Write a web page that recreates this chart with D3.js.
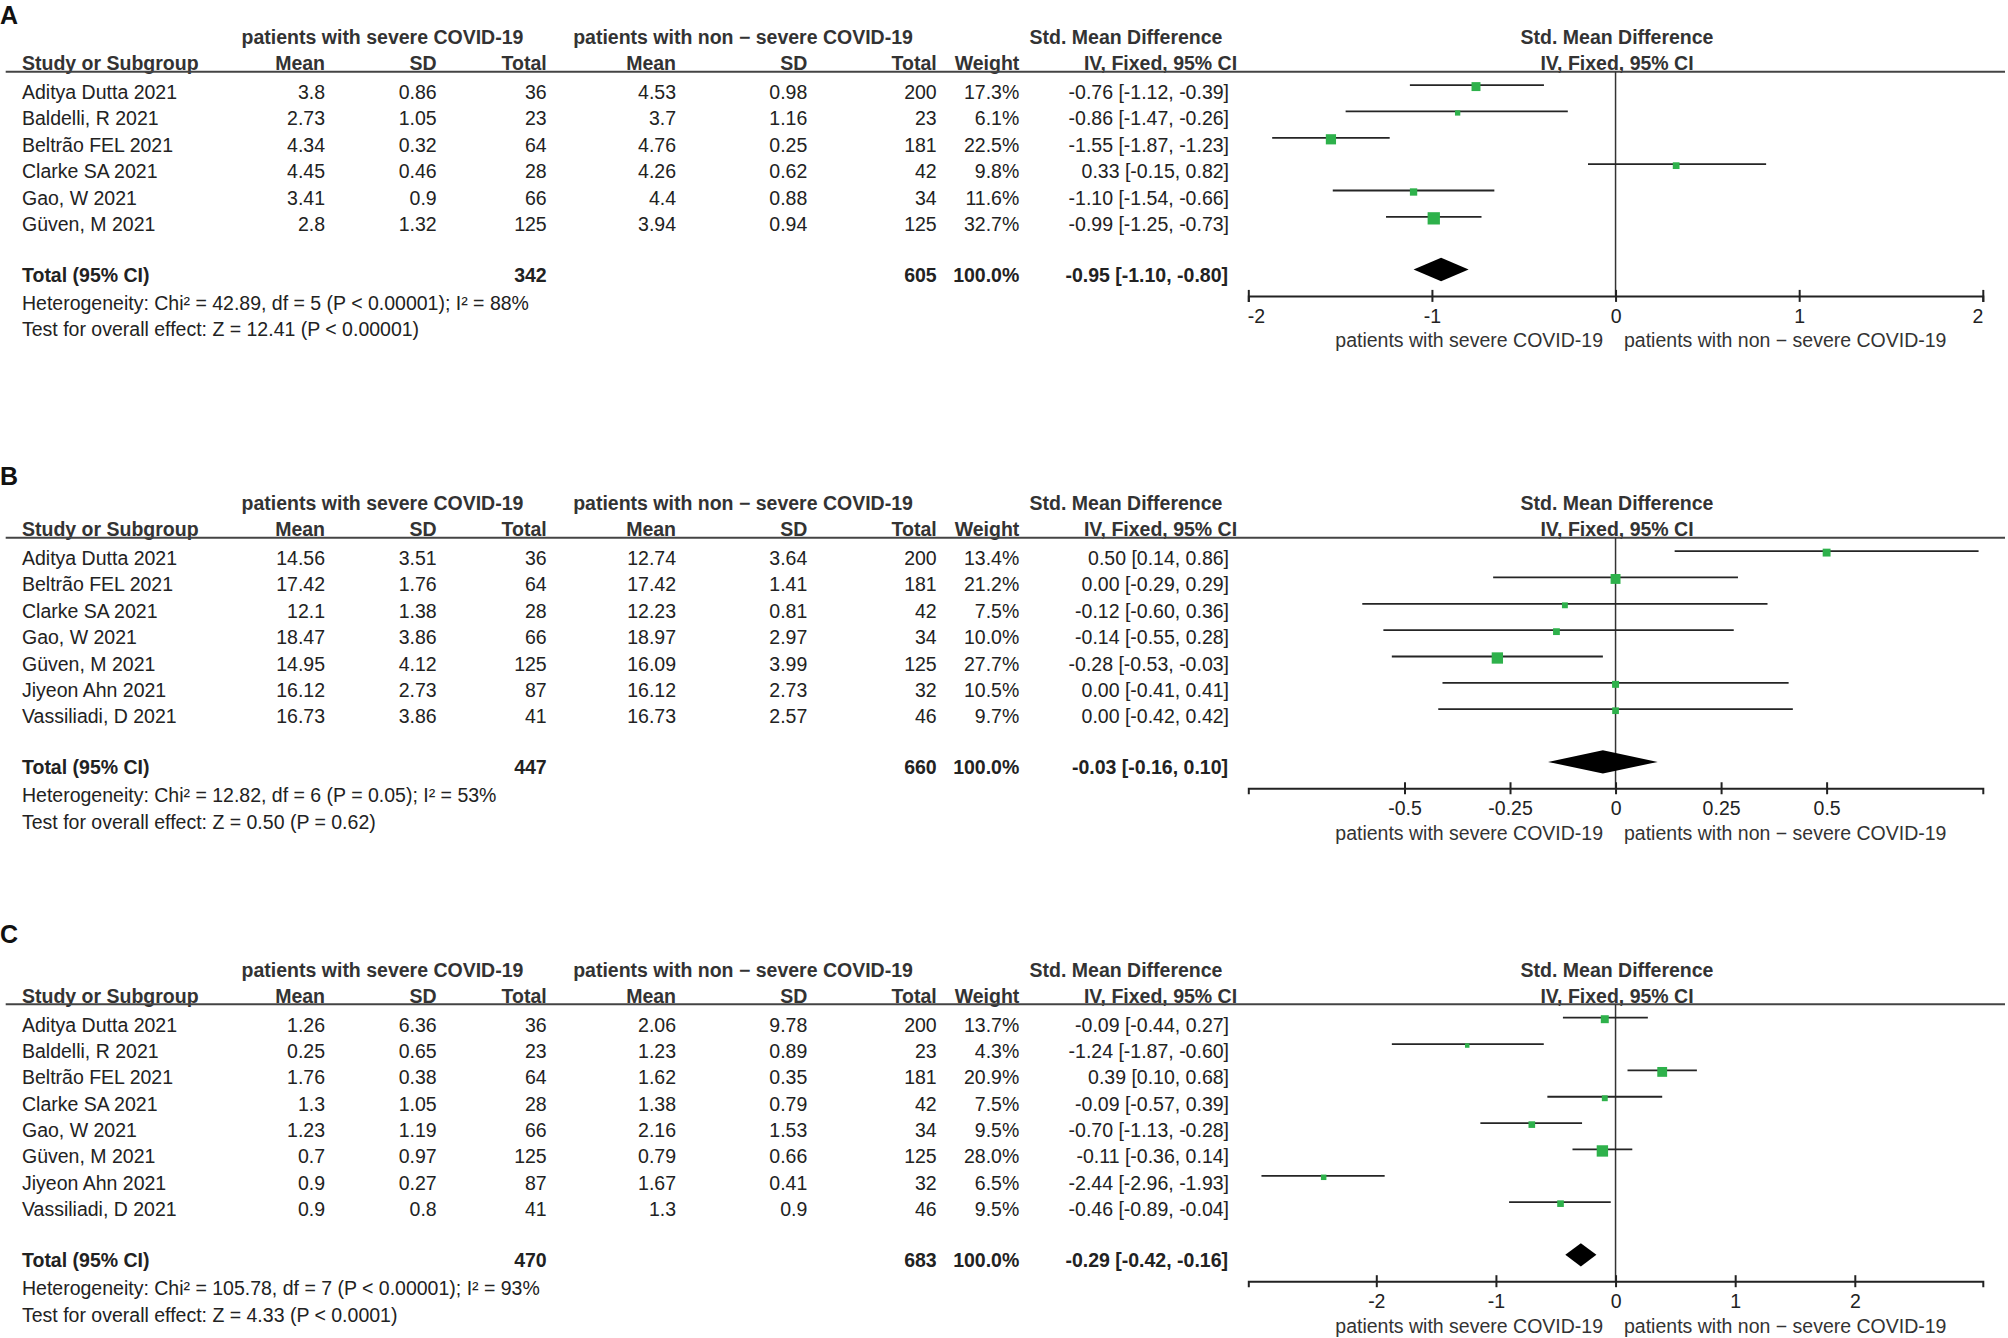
<!DOCTYPE html>
<html>
<head>
<meta charset="utf-8">
<script src="https://cdn.jsdelivr.net/npm/d3@7/dist/d3.min.js"></script>
<style>
  html, body { margin: 0; padding: 0; background: #fff; }
  svg { display: block; }
  text { font-family: "Liberation Sans", Arial, Helvetica, sans-serif; }
</style>
</head>
<body>
<svg id="chart" width="2008" height="1338"></svg>
<script>
// ---------------- DATA ----------------
const headerTexts = {
  group1: "patients with severe COVID-19",
  group2: "patients with non \u2212 severe COVID-19",
  smd: "Std. Mean Difference",
  method: "IV, Fixed, 95% CI",
  study: "Study or Subgroup",
  favLeft: "patients with severe COVID-19",
  favRight: "patients with non \u2212 severe COVID-19"
};

// Panel A
const studiesA = ["Aditya Dutta 2021", "Baldelli, R 2021", "Beltrão FEL 2021", "Clarke SA 2021", "Gao, W 2021", "Güven, M 2021"];
const meanSevA = [3.8, 2.73, 4.34, 4.45, 3.41, 2.8];
const sdSevA   = [0.86, 1.05, 0.32, 0.46, 0.9, 1.32];
const nSevA    = [36, 23, 64, 28, 66, 125];
const meanNonA = [4.53, 3.7, 4.76, 4.26, 4.4, 3.94];
const sdNonA   = [0.98, 1.16, 0.25, 0.62, 0.88, 0.94];
const nNonA    = [200, 23, 181, 42, 34, 125];
const weightA  = [17.3, 6.1, 22.5, 9.8, 11.6, 32.7];
const smdA     = [-0.76, -0.86, -1.55, 0.33, -1.10, -0.99];
const lowA     = [-1.12, -1.47, -1.87, -0.15, -1.54, -1.25];
const highA    = [-0.39, -0.26, -1.23, 0.82, -0.66, -0.73];
const totalA   = { nSev: 342, nNon: 605, smd: -0.95, low: -1.10, high: -0.80 };
const hetA     = "Heterogeneity: Chi\u00b2 = 42.89, df = 5 (P < 0.00001); I\u00b2 = 88%";
const testA    = "Test for overall effect: Z = 12.41 (P < 0.00001)";
const domainA  = [-2, 2];
const ticksA   = [-2, -1, 0, 1, 2];

// Panel B
const studiesB = ["Aditya Dutta 2021", "Beltrão FEL 2021", "Clarke SA 2021", "Gao, W 2021", "Güven, M 2021", "Jiyeon Ahn 2021", "Vassiliadi, D 2021"];
const meanSevB = [14.56, 17.42, 12.1, 18.47, 14.95, 16.12, 16.73];
const sdSevB   = [3.51, 1.76, 1.38, 3.86, 4.12, 2.73, 3.86];
const nSevB    = [36, 64, 28, 66, 125, 87, 41];
const meanNonB = [12.74, 17.42, 12.23, 18.97, 16.09, 16.12, 16.73];
const sdNonB   = [3.64, 1.41, 0.81, 2.97, 3.99, 2.73, 2.57];
const nNonB    = [200, 181, 42, 34, 125, 32, 46];
const weightB  = [13.4, 21.2, 7.5, 10.0, 27.7, 10.5, 9.7];
const smdB     = [0.50, 0.00, -0.12, -0.14, -0.28, 0.00, 0.00];
const lowB     = [0.14, -0.29, -0.60, -0.55, -0.53, -0.41, -0.42];
const highB    = [0.86, 0.29, 0.36, 0.28, -0.03, 0.41, 0.42];
const totalB   = { nSev: 447, nNon: 660, smd: -0.03, low: -0.16, high: 0.10 };
const hetB     = "Heterogeneity: Chi\u00b2 = 12.82, df = 6 (P = 0.05); I\u00b2 = 53%";
const testB    = "Test for overall effect: Z = 0.50 (P = 0.62)";
const domainB  = [-0.87, 0.87];
const ticksB   = [-0.5, -0.25, 0, 0.25, 0.5];

// Panel C
const studiesC = ["Aditya Dutta 2021", "Baldelli, R 2021", "Beltrão FEL 2021", "Clarke SA 2021", "Gao, W 2021", "Güven, M 2021", "Jiyeon Ahn 2021", "Vassiliadi, D 2021"];
const meanSevC = [1.26, 0.25, 1.76, 1.3, 1.23, 0.7, 0.9, 0.9];
const sdSevC   = [6.36, 0.65, 0.38, 1.05, 1.19, 0.97, 0.27, 0.8];
const nSevC    = [36, 23, 64, 28, 66, 125, 87, 41];
const meanNonC = [2.06, 1.23, 1.62, 1.38, 2.16, 0.79, 1.67, 1.3];
const sdNonC   = [9.78, 0.89, 0.35, 0.79, 1.53, 0.66, 0.41, 0.9];
const nNonC    = [200, 23, 181, 42, 34, 125, 32, 46];
const weightC  = [13.7, 4.3, 20.9, 7.5, 9.5, 28.0, 6.5, 9.5];
const smdC     = [-0.09, -1.24, 0.39, -0.09, -0.70, -0.11, -2.44, -0.46];
const lowC     = [-0.44, -1.87, 0.10, -0.57, -1.13, -0.36, -2.96, -0.89];
const highC    = [0.27, -0.60, 0.68, 0.39, -0.28, 0.14, -1.93, -0.04];
const totalC   = { nSev: 470, nNon: 683, smd: -0.29, low: -0.42, high: -0.16 };
const hetC     = "Heterogeneity: Chi\u00b2 = 105.78, df = 7 (P < 0.00001); I\u00b2 = 93%";
const testC    = "Test for overall effect: Z = 4.33 (P < 0.0001)";
const domainC  = [-3.07, 3.07];
const ticksC   = [-2, -1, 0, 1, 2];

// ---------------- LAYOUT ----------------
const panels = [
  { label: "A", labelY: 24,    H: 71.7,   studies: studiesA, mS: meanSevA, sS: sdSevA, nS: nSevA, mN: meanNonA, sN: sdNonA, nN: nNonA, w: weightA, est: smdA, lo: lowA, hi: highA, total: totalA, het: hetA, test: testA, domain: domainA, ticks: ticksA },
  { label: "B", labelY: 485,   H: 537.7,  studies: studiesB, mS: meanSevB, sS: sdSevB, nS: nSevB, mN: meanNonB, sN: sdNonB, nN: nNonB, w: weightB, est: smdB, lo: lowB, hi: highB, total: totalB, het: hetB, test: testB, domain: domainB, ticks: ticksB },
  { label: "C", labelY: 942.7, H: 1004.3, studies: studiesC, mS: meanSevC, sS: sdSevC, nS: nSevC, mN: meanNonC, sN: sdNonC, nN: nNonC, w: weightC, est: smdC, lo: lowC, hi: highC, total: totalC, het: hetC, test: testC, domain: domainC, ticks: ticksC }
];

const FS = 19.5;
const TXT = "#222";
const HDR = "#333";
const GREEN = "#2eb14b";
const colStudy = 22;
const cols = { mS: 325, sS: 436.7, nS: 546.7, mN: 676, sN: 807.3, nN: 936.7, w: 1019.3, ci: 1229 };
const plotRange = [1248.3, 1982.8];
const rowStep = 26.35;

const svg = d3.select("#chart");

function fmtCI(e, l, h) { return e.toFixed(2) + " [" + l.toFixed(2) + ", " + h.toFixed(2) + "]"; }

function txt(g, x, y, s, anchor, bold, size, fill) {
  return g.append("text")
    .attr("x", x).attr("y", y)
    .attr("text-anchor", anchor || "start")
    .attr("font-size", size || FS)
    .attr("font-weight", bold ? "bold" : "normal")
    .attr("fill", fill || TXT)
    .text(s);
}

panels.forEach(p => {
  const g = svg.append("g");
  const n = p.studies.length;
  const H = p.H;
  const y = d3.scaleLinear().domain([0, 1]).range([H + 13.4, H + 13.4 + rowStep]);
  const x = d3.scaleLinear().domain(p.domain).range(plotRange);

  // panel label
  txt(g, 0, p.labelY, p.label, "start", true, 25, "#111");

  // header row 1
  txt(g, 382.5, H - 27.4, headerTexts.group1, "middle", true, FS, HDR);
  txt(g, 743, H - 27.4, headerTexts.group2, "middle", true, FS, HDR);
  txt(g, 1126, H - 27.4, headerTexts.smd, "middle", true, FS, HDR);
  txt(g, 1617, H - 27.4, headerTexts.smd, "middle", true, FS, HDR);

  // header row 2
  const hy = H - 1.5;
  txt(g, colStudy, hy, headerTexts.study, "start", true, FS, HDR);
  txt(g, cols.mS, hy, "Mean", "end", true, FS, HDR);
  txt(g, cols.sS, hy, "SD", "end", true, FS, HDR);
  txt(g, cols.nS, hy, "Total", "end", true, FS, HDR);
  txt(g, cols.mN, hy, "Mean", "end", true, FS, HDR);
  txt(g, cols.sN, hy, "SD", "end", true, FS, HDR);
  txt(g, cols.nN, hy, "Total", "end", true, FS, HDR);
  txt(g, cols.w, hy, "Weight", "end", true, FS, HDR);
  txt(g, 1160.5, hy, headerTexts.method, "middle", true, FS, HDR);
  txt(g, 1617, hy, headerTexts.method, "middle", true, FS, HDR);

  // header line
  g.append("line").attr("x1", 5.7).attr("x2", 2005).attr("y1", H).attr("y2", H)
    .attr("stroke", "#444").attr("stroke-width", 2);

  // study rows
  p.studies.forEach((s, i) => {
    const by = y(i) + 14;
    txt(g, colStudy, by, s);
    txt(g, cols.mS, by, String(p.mS[i]), "end");
    txt(g, cols.sS, by, String(p.sS[i]), "end");
    txt(g, cols.nS, by, String(p.nS[i]), "end");
    txt(g, cols.mN, by, String(p.mN[i]), "end");
    txt(g, cols.sN, by, String(p.sN[i]), "end");
    txt(g, cols.nN, by, String(p.nN[i]), "end");
    txt(g, cols.w, by, p.w[i].toFixed(1) + "%", "end");
    txt(g, cols.ci, by, fmtCI(p.est[i], p.lo[i], p.hi[i]), "end");
  });

  // total row
  const cy = y(n + 1);
  const tby = cy + 12.4;
  txt(g, colStudy, tby, "Total (95% CI)", "start", true);
  txt(g, cols.nS, tby, String(p.total.nSev), "end", true);
  txt(g, cols.nN, tby, String(p.total.nNon), "end", true);
  txt(g, cols.w, tby, "100.0%", "end", true);
  txt(g, cols.ci - 1, tby, fmtCI(p.total.smd, p.total.low, p.total.high), "end", true);
  txt(g, colStudy, tby + 28, p.het);
  txt(g, colStudy, tby + 54.5, p.test);

  // forest plot
  const axisY = y(n + 2);

  // zero line
  g.append("line").attr("x1", x(0)).attr("x2", x(0)).attr("y1", H).attr("y2", axisY)
    .attr("stroke", "#333").attr("stroke-width", 1.5);

  // CI lines
  g.selectAll(".ci").data(p.studies).enter().append("line")
    .attr("x1", (d, i) => x(p.lo[i])).attr("x2", (d, i) => x(p.hi[i]))
    .attr("y1", (d, i) => y(i)).attr("y2", (d, i) => y(i))
    .attr("stroke", "#252525").attr("stroke-width", 1.8);

  // markers
  g.selectAll(".mk").data(p.studies).enter().append("rect")
    .attr("x", (d, i) => x(p.est[i]) - 1.075 * Math.sqrt(p.w[i]))
    .attr("y", (d, i) => y(i) + 1.5 - 1.075 * Math.sqrt(p.w[i]))
    .attr("width", (d, i) => 2.15 * Math.sqrt(p.w[i]))
    .attr("height", (d, i) => 2.15 * Math.sqrt(p.w[i]))
    .attr("fill", GREEN);

  // diamond
  const dh = 11.7;
  g.append("polygon")
    .attr("points", [
      [x(p.total.low), cy], [x(p.total.smd), cy - dh],
      [x(p.total.high), cy], [x(p.total.smd), cy + dh]
    ].map(d => d.join(",")).join(" "))
    .attr("fill", "#000");

  // axis
  const ax = g.append("g").attr("transform", `translate(0,${axisY})`)
    .call(d3.axisBottom(x).tickValues(p.ticks).tickSizeOuter(0).tickSize(6).tickFormat(d => String(d)));
  ax.select(".domain").attr("stroke", "#222").attr("stroke-width", 2);
  ax.selectAll(".tick line").attr("y1", -6).attr("y2", 6).attr("stroke", "#222").attr("stroke-width", 2);
  ax.selectAll(".tick text")
    .attr("y", 27).attr("dy", null)
    .attr("font-size", FS).attr("fill", TXT)
    .attr("font-family", "'Liberation Sans', Arial, sans-serif")
    .attr("text-anchor", d => d === p.domain[0] ? "start" : (d === p.domain[1] ? "end" : "middle"))
    .attr("dx", d => d === p.domain[0] ? -1 : 0);

  // favours labels
  txt(g, 1603, axisY + 51.3, headerTexts.favLeft, "end", false, FS, HDR);
  txt(g, 1624, axisY + 51.3, headerTexts.favRight, "start", false, FS, HDR);
});
</script>
</body>
</html>
